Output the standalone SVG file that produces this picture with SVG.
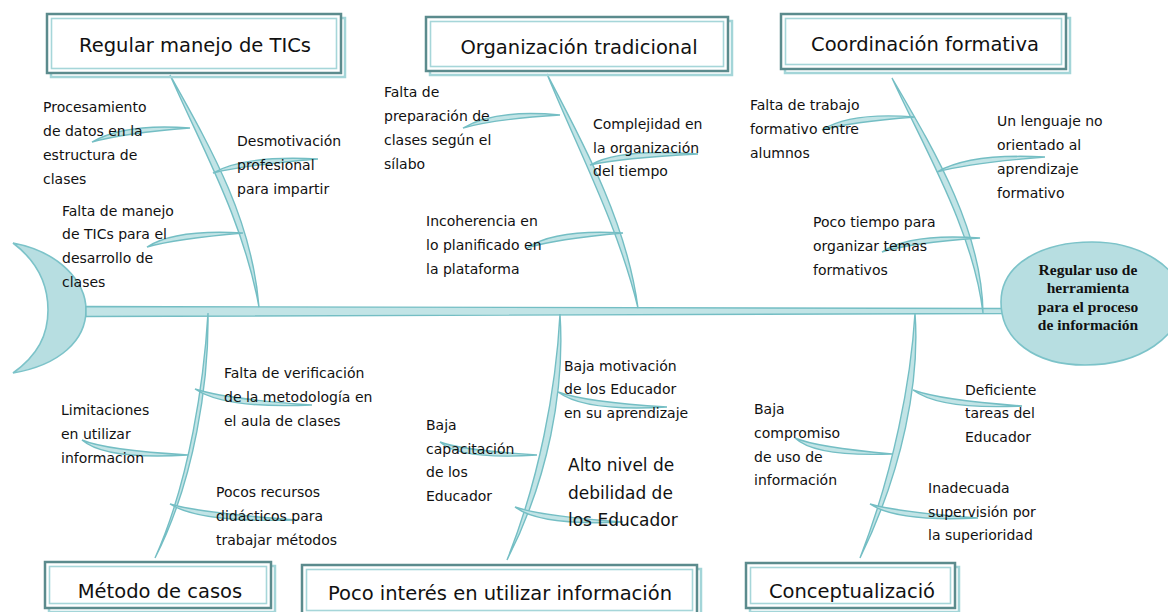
<svg xmlns="http://www.w3.org/2000/svg" width="1168" height="612" viewBox="0 0 1168 612">
<style>
.bg{fill:#ffffff}
.shadow{fill:none;stroke:#a3d5d8;stroke-width:2.5}
.frame{fill:#ffffff;stroke:#5b8b8d;stroke-width:2.5}
.inner{fill:none;stroke:#a6d6d9;stroke-width:1.6}
.title{font-family:"DejaVu Sans",sans-serif;font-size:19.5px;fill:#111;text-anchor:middle}
.lbl{font-family:"DejaVu Sans",sans-serif;font-size:14px;fill:#111}
.big{font-family:"DejaVu Sans",sans-serif;font-size:17px;fill:#111}
.head{font-family:"Liberation Serif",serif;font-weight:bold;font-size:15.5px;fill:#111;text-anchor:middle}
.fish{fill:#b7dee1;stroke:#7cc3c9;stroke-width:1.6}
.bone{fill:#c2e4e6;stroke:#74bec4;stroke-width:1.4}
</style>
<rect class="bg" x="0" y="0" width="1168" height="612"/>

<g id="tail"><path class="fish" d="M13,243 C60,252 86,282 86,310 C86,340 60,365 13,373 C38,355 48,335 48,310 C48,285 38,262 13,243 Z"/></g>

<g id="connectors">
  <!-- spine -->
  <path class="bone" d="M86,306.5 L1004,308.5 L1004,313.5 L86,316.5 Z"/>
  <!-- main bones -->
  <path class="bone" d="M170,75 C203,150 243,220 259,307 C252,220 212,150 170,75 Z"/>
  <path class="bone" d="M547,74 C578,150 618,225 638,308 C627,225 587,150 547,74 Z"/>
  <path class="bone" d="M892,78 C925,150 973,230 983,313 C982,230 934,150 892,78 Z"/>
  <path class="bone" d="M208,313 C204,380 190,480 155,558 C195,480 209,380 208,313 Z"/>
  <path class="bone" d="M560,314 C556,390 539,480 507,560 C548,480 565,390 560,314 Z"/>
  <path class="bone" d="M915,313 C911,380 894,470 860,558 C903,470 920,380 915,313 Z"/>
  <!-- sub bones top -->
  <path class="bone" d="M92,142 Q125,123 190,128 Q125,133 92,142 Z"/>
  <path class="bone" d="M213,173 Q245,155 318,159 Q245,165 213,173 Z"/>
  <path class="bone" d="M147,247 Q175,229 243,233 Q175,239 147,247 Z"/>
  <path class="bone" d="M463,128 Q495,109 560,115 Q495,119 463,128 Z"/>
  <path class="bone" d="M590,165 Q620,148 698,154 Q620,158 590,165 Z"/>
  <path class="bone" d="M527,248 Q555,229 623,233 Q555,239 527,248 Z"/>
  <path class="bone" d="M822,130 Q850,112 915,117 Q850,122 822,130 Z"/>
  <path class="bone" d="M937,172 Q970,153 1045,157 Q970,163 937,172 Z"/>
  <path class="bone" d="M882,252 Q910,233 980,238 Q910,243 882,252 Z"/>
  <!-- sub bones bottom -->
  <path class="bone" d="M195,389 Q225,409 312,405 Q225,399 195,389 Z"/>
  <path class="bone" d="M82,440 Q105,460 188,455 Q105,450 82,440 Z"/>
  <path class="bone" d="M170,504 Q200,523 297,520 Q200,513 170,504 Z"/>
  <path class="bone" d="M558,392 Q585,412 667,407 Q585,402 558,392 Z"/>
  <path class="bone" d="M440,442 Q460,460 537,455 Q460,450 440,442 Z"/>
  <path class="bone" d="M515,507 Q540,526 623,522 Q540,516 515,507 Z"/>
  <path class="bone" d="M913,390 Q940,410 1022,406 Q940,400 913,390 Z"/>
  <path class="bone" d="M795,438 Q815,457 892,454 Q815,447 795,438 Z"/>
  <path class="bone" d="M870,504 Q897,522 978,518 Q897,512 870,504 Z"/>
</g>

<g id="head">
  <path class="fish" d="M1001,302 C1001,262 1045,242 1092,242 C1140,242 1182,268 1182,300 C1182,336 1140,365 1085,365 C1035,365 1001,340 1001,302 Z"/>
  <text class="head" x="1088" y="275">Regular uso de</text>
  <text class="head" x="1088" y="293">herramienta</text>
  <text class="head" x="1088" y="312">para el proceso</text>
  <text class="head" x="1088" y="330">de información</text>
</g>

<g id="box-regular-manejo">
  <rect class="shadow" x="51" y="18" width="294" height="59"/>
  <rect class="frame" x="47" y="14" width="294" height="59"/>
  <rect class="inner" x="51.5" y="18.5" width="285" height="50"/>
  <text class="title" x="195" y="52">Regular manejo de TICs</text>
</g>
<g id="box-organizacion">
  <rect class="shadow" x="430" y="21" width="302" height="54"/>
  <rect class="frame" x="426" y="17" width="302" height="54"/>
  <rect class="inner" x="430.5" y="21.5" width="293" height="45"/>
  <text class="title" x="579" y="54">Organización tradicional</text>
</g>
<g id="box-coordinacion">
  <rect class="shadow" x="785" y="18" width="285" height="55"/>
  <rect class="frame" x="781" y="14" width="285" height="55"/>
  <rect class="inner" x="785.5" y="18.5" width="276" height="46"/>
  <text class="title" x="925" y="51">Coordinación formativa</text>
</g>
<g id="box-metodo">
  <rect class="shadow" x="49" y="566" width="226" height="46"/>
  <rect class="frame" x="45" y="562" width="226" height="46"/>
  <rect class="inner" x="49.5" y="566.5" width="217" height="37"/>
  <text class="title" x="160" y="598">Método de casos</text>
</g>
<g id="box-poco-interes">
  <rect class="shadow" x="306" y="569" width="395" height="50"/>
  <rect class="frame" x="302" y="565" width="395" height="50"/>
  <rect class="inner" x="306.5" y="569.5" width="386" height="41"/>
  <text class="title" x="500" y="600">Poco interés en utilizar información</text>
</g>
<g id="box-conceptualizacion">
  <rect class="shadow" x="750" y="567" width="209" height="45"/>
  <rect class="frame" x="746" y="563" width="209" height="45"/>
  <rect class="inner" x="750.5" y="567.5" width="200" height="36"/>
  <text class="title" x="852" y="598">Conceptualizació</text>
</g>

<g id="cause-procesamiento"><text class="lbl" x="43" y="112">Procesamiento</text><text class="lbl" x="43" y="136">de datos en la</text><text class="lbl" x="43" y="160">estructura de</text><text class="lbl" x="43" y="184">clases</text></g>
<g id="cause-desmotivacion"><text class="lbl" x="237" y="146">Desmotivación</text><text class="lbl" x="237" y="170">profesional</text><text class="lbl" x="237" y="194">para impartir</text></g>
<g id="cause-falta-manejo"><text class="lbl" x="62" y="216">Falta de manejo</text><text class="lbl" x="62" y="239">de TICs para el</text><text class="lbl" x="62" y="263">desarrollo de</text><text class="lbl" x="62" y="287">clases</text></g>

<g id="cause-falta-preparacion"><text class="lbl" x="384" y="97">Falta de</text><text class="lbl" x="384" y="121">preparación de</text><text class="lbl" x="384" y="145">clases según el</text><text class="lbl" x="384" y="169">sílabo</text></g>
<g id="cause-complejidad"><text class="lbl" x="593" y="129">Complejidad en</text><text class="lbl" x="593" y="153">la organización</text><text class="lbl" x="593" y="176">del tiempo</text></g>
<g id="cause-incoherencia"><text class="lbl" x="426" y="226">Incoherencia en</text><text class="lbl" x="426" y="250">lo planificado en</text><text class="lbl" x="426" y="274">la plataforma</text></g>

<g id="cause-falta-trabajo"><text class="lbl" x="750" y="110">Falta de trabajo</text><text class="lbl" x="750" y="134">formativo entre</text><text class="lbl" x="750" y="158">alumnos</text></g>
<g id="cause-lenguaje"><text class="lbl" x="997" y="126">Un lenguaje no</text><text class="lbl" x="997" y="150">orientado al</text><text class="lbl" x="997" y="174">aprendizaje</text><text class="lbl" x="997" y="198">formativo</text></g>
<g id="cause-poco-tiempo"><text class="lbl" x="813" y="227">Poco tiempo para</text><text class="lbl" x="813" y="251">organizar temas</text><text class="lbl" x="813" y="275">formativos</text></g>

<g id="cause-verificacion"><text class="lbl" x="224" y="378">Falta de verificación</text><text class="lbl" x="224" y="402">de la metodología en</text><text class="lbl" x="224" y="426">el aula de clases</text></g>
<g id="cause-limitaciones"><text class="lbl" x="61" y="415">Limitaciones</text><text class="lbl" x="61" y="439">en utilizar</text><text class="lbl" x="61" y="463">informacion</text></g>
<g id="cause-recursos"><text class="lbl" x="216" y="497">Pocos recursos</text><text class="lbl" x="216" y="521">didácticos para</text><text class="lbl" x="216" y="545">trabajar métodos</text></g>

<g id="cause-baja-motivacion"><text class="lbl" x="564" y="371">Baja motivación</text><text class="lbl" x="564" y="394">de los Educador</text><text class="lbl" x="564" y="418">en su aprendizaje</text></g>
<g id="cause-baja-capacitacion"><text class="lbl" x="426" y="430">Baja</text><text class="lbl" x="426" y="454">capacitación</text><text class="lbl" x="426" y="477">de los</text><text class="lbl" x="426" y="501">Educador</text></g>
<g id="cause-alto-nivel"><text class="big" x="568" y="471">Alto nivel de</text><text class="big" x="568" y="499">debilidad de</text><text class="big" x="568" y="526">los Educador</text></g>

<g id="cause-deficiente"><text class="lbl" x="965" y="395">Deficiente</text><text class="lbl" x="965" y="418">tareas del</text><text class="lbl" x="965" y="442">Educador</text></g>
<g id="cause-baja-compromiso"><text class="lbl" x="754" y="414">Baja</text><text class="lbl" x="754" y="438">compromiso</text><text class="lbl" x="754" y="462">de uso de</text><text class="lbl" x="754" y="485">información</text></g>
<g id="cause-inadecuada"><text class="lbl" x="928" y="493">Inadecuada</text><text class="lbl" x="928" y="517">supervisión por</text><text class="lbl" x="928" y="540">la superioridad</text></g>
</svg>
